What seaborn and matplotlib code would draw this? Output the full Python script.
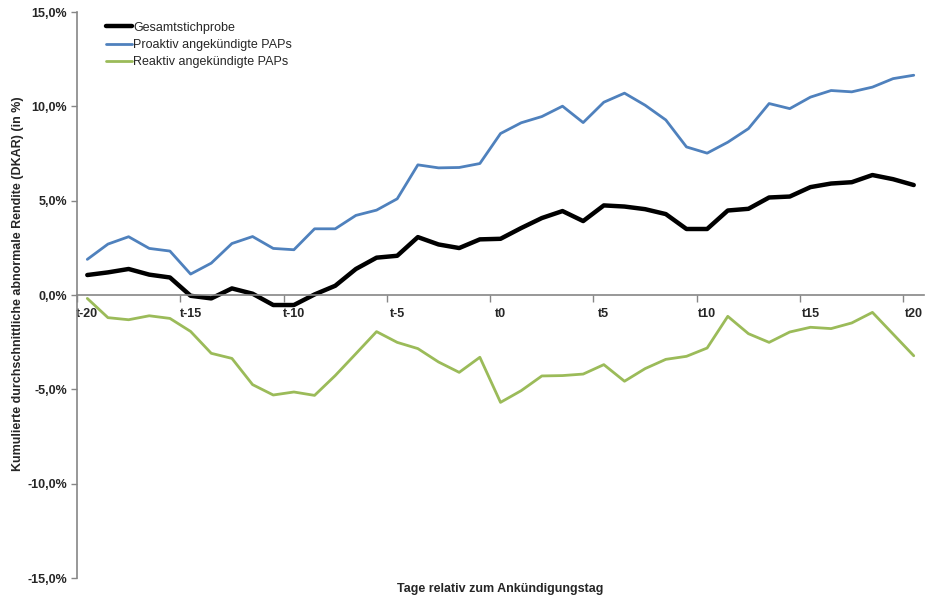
import matplotlib
matplotlib.use("Agg")
import matplotlib.pyplot as plt
import matplotlib.ticker as mticker
import seaborn as sns
import numpy as np
import pandas as pd

# days relative to announcement
days = list(range(-20, 21))
tick_days = [-20, -15, -10, -5, 0, 5, 10, 15, 20]
tick_labels = ["t-20", "t-15", "t-10", "t-5", "t0", "t5", "t10", "t15", "t20"]

# cumulative average abnormal return in %
gesamt = [1.06, 1.20, 1.38, 1.08, 0.93, -0.04, -0.18, 0.35, 0.07, -0.53,
          -0.53, 0.03, 0.49, 1.38, 1.98, 2.08, 3.07, 2.68, 2.49, 2.95,
          2.98, 3.55, 4.08, 4.45, 3.92, 4.75, 4.69, 4.55, 4.29, 3.50,
          3.50, 4.48, 4.57, 5.17, 5.22, 5.72, 5.91, 5.98, 6.36, 6.14, 5.83]
proaktiv = [1.89, 2.70, 3.09, 2.47, 2.33, 1.11, 1.69, 2.73, 3.10, 2.47,
            2.40, 3.51, 3.51, 4.22, 4.50, 5.10, 6.90, 6.74, 6.76, 6.97,
            8.56, 9.13, 9.46, 10.01, 9.14, 10.22, 10.70, 10.06, 9.28, 7.85,
            7.52, 8.10, 8.82, 10.15, 9.88, 10.49, 10.84, 10.77, 11.02, 11.47, 11.65]
reaktiv = [-0.18, -1.20, -1.31, -1.10, -1.24, -1.93, -3.09, -3.36, -4.75, -5.30,
           -5.14, -5.32, -4.27, -3.11, -1.94, -2.51, -2.84, -3.55, -4.10, -3.30,
           -5.69, -5.07, -4.29, -4.27, -4.19, -3.69, -4.57, -3.90, -3.41, -3.25,
           -2.81, -1.13, -2.05, -2.51, -1.96, -1.71, -1.78, -1.48, -0.92, -2.07, -3.22]

df = pd.DataFrame({"Tag": days, "Gesamtstichprobe": gesamt,
                   "Proaktiv angekündigte PAPs": proaktiv,
                   "Reaktiv angekündigte PAPs": reaktiv})

sns.set_style("white")
plt.rcParams["font.family"] = ["Liberation Sans", "DejaVu Sans"]

fig = plt.figure(figsize=(9.25, 5.96), dpi=100)
ax = fig.add_axes([0.0832, 0.0302, 0.9158, 0.9496])

sns.lineplot(data=df, x="Tag", y="Gesamtstichprobe", color="black", lw=3.2,
             label="Gesamtstichprobe", ax=ax)
sns.lineplot(data=df, x="Tag", y="Proaktiv angekündigte PAPs", color="#4F81BD", lw=2.0,
             label="Proaktiv angekündigte PAPs", ax=ax)
sns.lineplot(data=df, x="Tag", y="Reaktiv angekündigte PAPs", color="#9BBB59", lw=2.0,
             label="Reaktiv angekündigte PAPs", ax=ax)

ax.set_xlim(-20.5, 20.5)
ax.set_ylim(-15, 15)

# spines first: moving a spine resets the ticks
for s in ["top", "right"]:
    ax.spines[s].set_visible(False)
ax.spines["bottom"].set_position(("data", 0))
for s in ["left", "bottom"]:
    ax.spines[s].set_color("#868686")
    ax.spines[s].set_linewidth(1.2)

ax.set_yticks(np.arange(-15, 16, 5))
ax.yaxis.set_major_formatter(mticker.FuncFormatter(lambda v, p: f"{v:.1f}%".replace(".", ",")))

# labels on the categories (major, no mark), marks on category boundaries (minor)
ax.xaxis.set_major_locator(mticker.FixedLocator(tick_days))
ax.xaxis.set_major_formatter(mticker.FixedFormatter(tick_labels))
ax.xaxis.set_minor_locator(mticker.FixedLocator(np.arange(-20.5, 20.6, 5)))
ax.tick_params(axis="x", which="major", length=0, pad=9, labelsize=9)
ax.tick_params(axis="x", which="minor", direction="out", length=5, color="#868686", width=1, bottom=True)
ax.tick_params(axis="y", direction="out", length=4, color="#868686", width=1, left=True, pad=3, labelsize=9)
plt.setp(ax.get_xticklabels(), fontweight="bold")
plt.setp(ax.get_yticklabels(), fontweight="bold")

ax.set_xlabel("Tage relativ zum Ankündigungstag", fontsize=9, fontweight="bold")
ax.xaxis.set_label_coords(0.5, -0.008)
ax.xaxis.label.set_va("top")
ax.set_ylabel("Kumulierte durchschnittliche abnormale Rendite (DKAR) (in %)", fontsize=9, fontweight="bold")
ax.yaxis.set_label_coords(-0.063, 0.52)

ax.legend(loc="upper left", bbox_to_anchor=(0.034, 0.983), frameon=False, fontsize=9,
          handlelength=2.1, handletextpad=0.1, labelspacing=0.42, borderpad=0, borderaxespad=0)

fig.savefig("out.png", dpi=100)
